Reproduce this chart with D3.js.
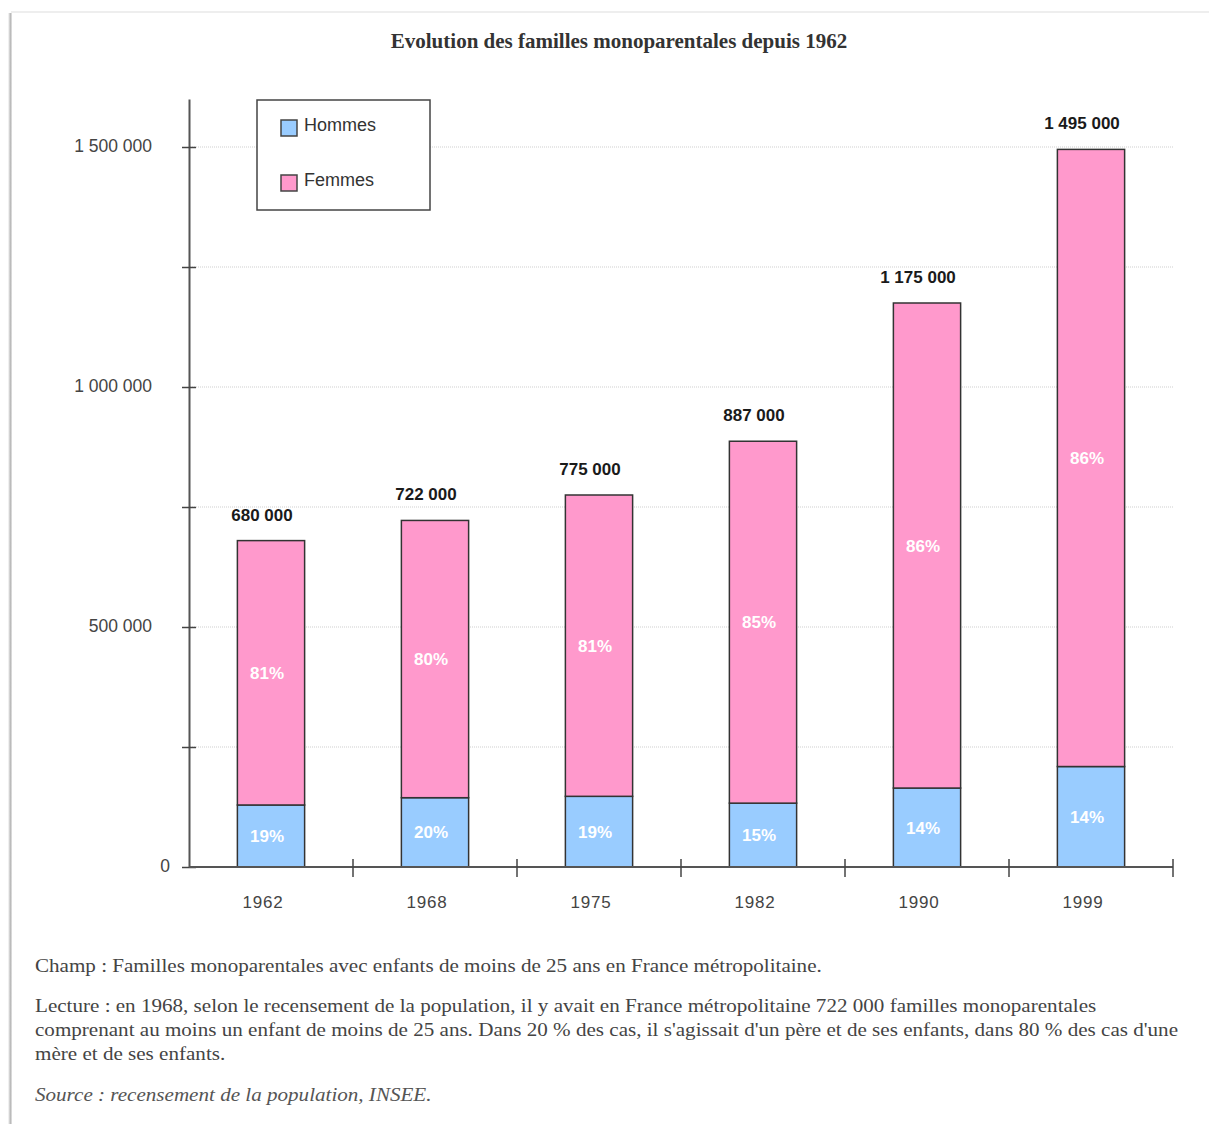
<!DOCTYPE html>
<html>
<head>
<meta charset="utf-8">
<script src="https://cdn.jsdelivr.net/npm/d3@7"></script>
<style>
  body { margin: 0; background: #fff; }
  svg { display: block; }
</style>
</head>
<body>
<script>
// Data
var years = ["1962", "1968", "1975", "1982", "1990", "1999"];
var totals = [680000, 722000, 775000, 887000, 1175000, 1495000];
var pctHommes = [19, 20, 19, 15, 14, 14];
var pctFemmes = [81, 80, 81, 85, 86, 86];
var yTicks = [0, 500000, 1000000, 1500000];
var series = ["Hommes", "Femmes"];
var colors = {Hommes: "#99ccff", Femmes: "#ff99cc"};

var width = 1209, height = 1124;

var svg = d3.select("body").append("svg")
    .attr("width", width)
    .attr("height", height);

// page frame (card with a faint shadow)
var defs = svg.append("defs");
var grad = defs.append("linearGradient").attr("id", "shadowL")
    .attr("x1", 0).attr("x2", 1).attr("y1", 0).attr("y2", 0);
grad.append("stop").attr("offset", "0%").attr("stop-color", "#ffffff");
grad.append("stop").attr("offset", "60%").attr("stop-color", "#b8b8b8");
grad.append("stop").attr("offset", "100%").attr("stop-color", "#e6e6e6");
svg.append("rect").attr("x", 8).attr("y", 13).attr("width", 4).attr("height", height - 13)
    .attr("fill", "url(#shadowL)");
svg.append("rect").attr("x", 11).attr("y", 11).attr("width", width - 11).attr("height", 2)
    .attr("fill", "#eeeeee");

var serif = "'Liberation Serif', 'Times New Roman', serif";
var labelFont = "'Liberation Sans', Arial, sans-serif";

// title
svg.append("text")
    .attr("x", 619).attr("y", 48)
    .attr("text-anchor", "middle")
    .style("font-family", serif)
    .style("font-weight", "bold")
    .style("font-size", "21px")
    .style("fill", "#333")
    .text("Evolution des familles monoparentales depuis 1962");

// scales
var x = d3.scaleBand().domain(years).range([189, 1173]).paddingInner(0.59).paddingOuter(0.295);
var y = d3.scaleLinear().domain([0, 1600000]).range([867, 99]);

// gridlines
svg.append("g").selectAll("line")
    .data(d3.range(250000, 1600000, 250000))
    .join("line")
    .attr("x1", 190).attr("x2", 1173)
    .attr("y1", function(d) { return y(d); })
    .attr("y2", function(d) { return y(d); })
    .attr("stroke", "#cfcfcf")
    .attr("stroke-width", 1)
    .attr("stroke-dasharray", "1,1");

// stacked data
var rows = years.map(function(yr, i) {
    var h = totals[i] * pctHommes[i] / 100;
    return {year: yr, total: totals[i], Hommes: h, Femmes: totals[i] - h,
            pH: pctHommes[i], pF: pctFemmes[i]};
});
var stack = d3.stack().keys(series)(rows);

var layers = svg.append("g").selectAll("g")
    .data(stack)
    .join("g")
    .attr("fill", function(d) { return colors[d.key]; });

layers.selectAll("rect")
    .data(function(d) { return d; })
    .join("rect")
    .attr("x", function(d) { return x(d.data.year); })
    .attr("width", x.bandwidth())
    .attr("y", function(d) { return y(d[1]); })
    .attr("height", function(d) { return y(d[0]) - y(d[1]); })
    .attr("stroke", "#333")
    .attr("stroke-width", 1.5);

// percentage labels
layers.selectAll("text")
    .data(function(d) { return d.map(function(p) { p.key = d.key; return p; }); })
    .join("text")
    .attr("x", function(d) { return x(d.data.year) + x.bandwidth() / 2 - 4; })
    .attr("y", function(d) { return (y(d[0]) + y(d[1])) / 2 + 6; })
    .attr("text-anchor", "middle")
    .style("font-family", labelFont)
    .style("font-weight", "bold")
    .style("font-size", "17px")
    .style("fill", "#ffffff")
    .text(function(d) { return (d.key === "Hommes" ? d.data.pH : d.data.pF) + "%"; });

// total labels
var fmt = function(v) { return d3.format(",")(v).replace(/,/g, " "); };
svg.append("g").selectAll("text")
    .data(rows)
    .join("text")
    .attr("x", function(d) { return x(d.year) + x.bandwidth() / 2 - 9; })
    .attr("y", function(d) { return y(d.total) - 20; })
    .attr("text-anchor", "middle")
    .style("font-family", labelFont)
    .style("font-weight", "bold")
    .style("font-size", "17px")
    .style("fill", "#1a1a1a")
    .text(function(d) { return fmt(d.total); });

// y axis
var yAxis = d3.axisLeft(y)
    .tickValues(d3.range(0, 1600000, 250000))
    .tickSizeInner(7).tickSizeOuter(0)
    .tickFormat(function(d) { return yTicks.indexOf(d) >= 0 ? fmt(d) : ""; });
var gy = svg.append("g").attr("transform", "translate(189,0)").call(yAxis);
gy.select(".domain").attr("stroke", "#555").attr("stroke-width", 2);
gy.selectAll(".tick line").attr("stroke", "#444").attr("stroke-width", 1.5).attr("x2", 7).attr("x1", -7);
gy.selectAll(".tick text")
    .attr("x", function(d) { return d === 0 ? -19 : -37; })
    .attr("dy", "0.25em")
    .style("font-family", labelFont)
    .style("font-size", "17.5px")
    .style("fill", "#444");

// x axis
var xTickPos = years.map(function(yr) { return x(yr) - (x.step() - x.bandwidth()) / 2; });
xTickPos.push(1173);
svg.append("line").attr("x1", 189).attr("x2", 1173).attr("y1", 867).attr("y2", 867)
    .attr("stroke", "#555").attr("stroke-width", 2);
svg.append("g").selectAll("line")
    .data(xTickPos.slice(1))
    .join("line")
    .attr("x1", function(d) { return d; }).attr("x2", function(d) { return d; })
    .attr("y1", 859).attr("y2", 877)
    .attr("stroke", "#444").attr("stroke-width", 1.5);
svg.append("g").selectAll("text")
    .data(years)
    .join("text")
    .attr("x", function(d) { return x(d) + x.bandwidth() / 2 - 8; })
    .attr("y", 908)
    .attr("text-anchor", "middle")
    .style("font-family", labelFont)
    .style("font-size", "17px")
    .style("letter-spacing", "0.8px")
    .style("fill", "#444")
    .text(function(d) { return d; });

// legend
var lg = svg.append("g");
lg.append("rect").attr("x", 257).attr("y", 100).attr("width", 173).attr("height", 110)
    .attr("fill", "#fff").attr("stroke", "#444").attr("stroke-width", 1.5);
var items = lg.selectAll("g").data(series).join("g")
    .attr("transform", function(d, i) { return "translate(281," + (120 + i * 55) + ")"; });
items.append("rect").attr("width", 16).attr("height", 16)
    .attr("fill", function(d) { return colors[d]; })
    .attr("stroke", "#444").attr("stroke-width", 1.5);
items.append("text").attr("x", 23).attr("y", 11)
    .style("font-family", labelFont)
    .style("font-size", "18px")
    .style("fill", "#333")
    .text(function(d) { return d; });

// footer notes (the source text is rendered wider than Liberation Serif)
var notes = [
    {t: "Champ : Familles monoparentales avec enfants de moins de 25 ans en France métropolitaine.", y: 972},
    {t: "Lecture : en 1968, selon le recensement de la population, il y avait en France métropolitaine 722 000 familles monoparentales", y: 1012},
    {t: "comprenant au moins un enfant de moins de 25 ans. Dans 20 % des cas, il s'agissait d'un père et de ses enfants, dans 80 % des cas d'une", y: 1036},
    {t: "mère et de ses enfants.", y: 1060}
];
var foot = svg.append("g").attr("transform", "translate(35,0) scale(1.11,1)");
foot.selectAll("text").data(notes).join("text")
    .attr("x", 0).attr("y", function(d) { return d.y; })
    .style("font-family", serif)
    .style("font-size", "19px")
    .style("fill", "#444")
    .text(function(d) { return d.t; });
foot.append("text").attr("x", 0).attr("y", 1101)
    .style("font-family", serif)
    .style("font-size", "19px")
    .style("font-style", "italic")
    .style("fill", "#555")
    .text("Source : recensement de la population, INSEE.");
</script>
</body>
</html>
